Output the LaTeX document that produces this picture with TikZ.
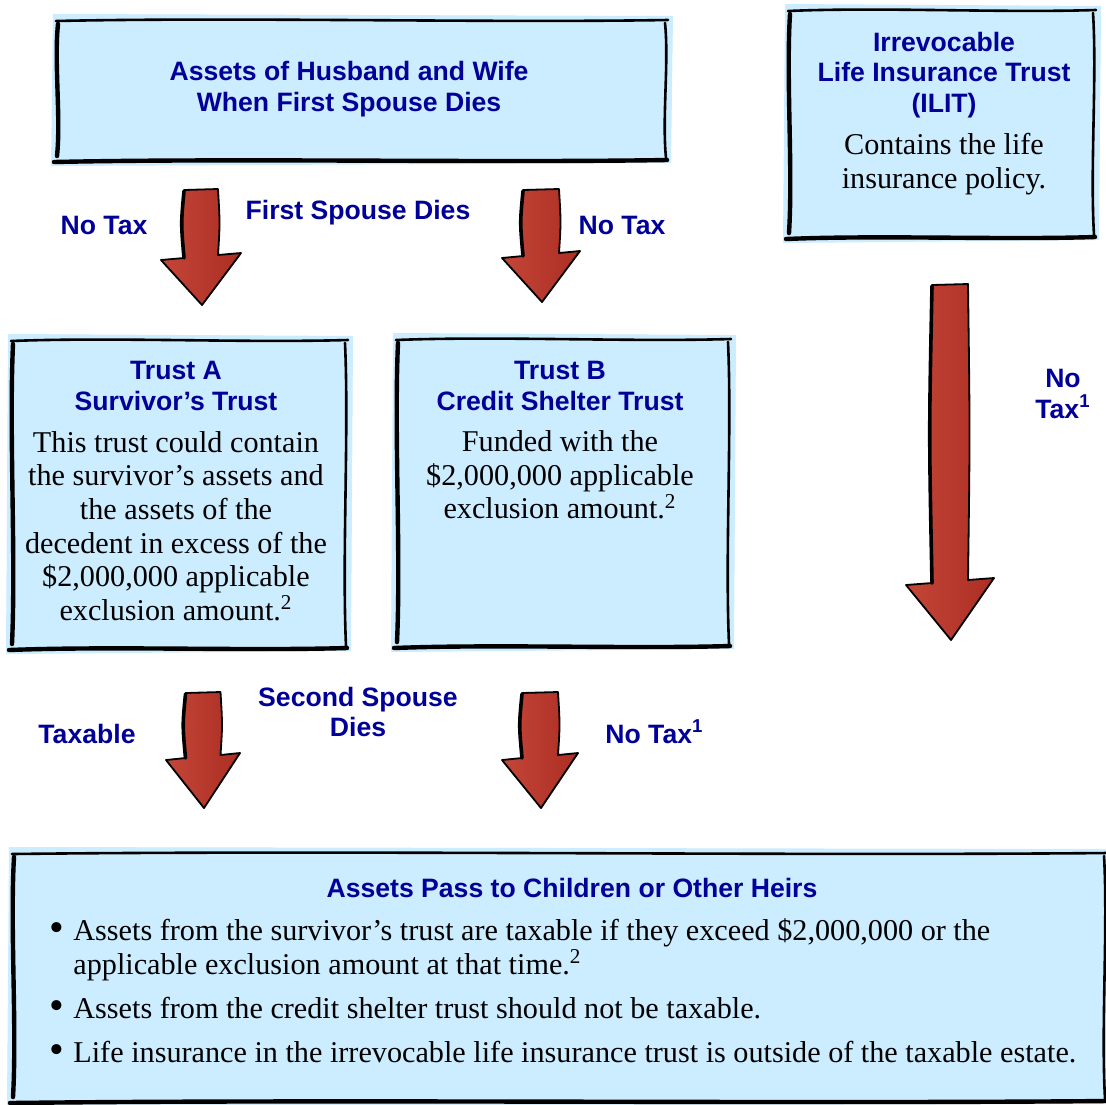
\documentclass[tikz,border=0pt]{standalone}
\usepackage{fontspec}
\setmainfont{Liberation Serif}
\newfontfamily\hdfont{Liberation Sans}
\definecolor{boxfill}{RGB}{204,236,255}
\definecolor{navy}{RGB}{0,0,153}
\definecolor{redlite}{RGB}{196,70,56}
\definecolor{reddark}{RGB}{172,46,36}
\tikzset{
  hd/.style={font=\hdfont\bfseries\fontsize{13.3}{15.4}\selectfont, text=navy, align=center, inner sep=0pt},
  bd/.style={font=\fontsize{15.1}{16.8}\selectfont, align=center, inner sep=0pt},
  bul/.style={font=\fontsize{21}{16.8}\selectfont, inner sep=0pt},
  edgethin/.style={line width=1.3pt, line cap=round},
  edgethick/.style={line width=2.2pt, line cap=round},
  arrowbody/.style={left color=redlite, right color=reddark, draw=black, line width=0.9pt, line join=round},
  arrowedge/.style={line width=1.8pt, line cap=round},
}
\newcommand\sketchbox[4]{%
  \fill[boxfill] ({#1-5},{#2-6}) -- ({#3+8},{#2-4}) -- ({#3+6},{#4+3}) -- ({#1-7},{#4+6}) -- cycle;
  \draw[edgethin] ({#1-2},{#2+1}) .. controls ({#1+0.3*(#3-#1)},{#2-3}) and ({#1+0.7*(#3-#1)},{#2+3}) .. ({#3+3},{#2});
  \draw[edgethin] ({#3},{#2+3}) .. controls ({#3+4},{#2+0.3*(#4-#2)}) and ({#3-3},{#2+0.7*(#4-#2)}) .. ({#3+1},{#4-2});
  \draw[edgethick] ({#1},{#2+4}) .. controls ({#1-4},{#2+0.3*(#4-#2)}) and ({#1+3},{#2+0.7*(#4-#2)}) .. ({#1-1},{#4-4});
  \draw[edgethick] ({#1-4},{#4+2}) .. controls ({#1+0.3*(#3-#1)},{#4-2}) and ({#1+0.7*(#3-#1)},{#4+3}) .. ({#3+2},{#4});
}
% cx, ytop, yhead, ytip, shaft width, head width
\newcommand\redarrow[6]{%
  \shadedraw[arrowbody] ({#1-#5/2},{#2}) -- ({#1+#5/2},{#2-1})
    .. controls ({#1+#5/2+2},{#2+0.5*(#3-#2)}) .. ({#1+#5/2},{#3-2})
    -- ({#1+#6/2},{#3-4}) -- ({#1+1},{#4}) -- ({#1-#6/2},{#3+3}) -- ({#1-#5/2},{#3+1})
    .. controls ({#1-#5/2-3},{#2+0.5*(#3-#2)}) .. cycle;
  \draw[arrowedge] ({#1-#5/2},{#2+1}) .. controls ({#1-#5/2-3},{#2+0.5*(#3-#2)}) .. ({#1-#5/2},{#3+1});
}
\begin{document}
\begin{tikzpicture}[x=0.5pt,y=-0.5pt]
\useasboundingbox (0,0) rectangle (1106,1104);
\fill[white] (0,0) rectangle (1106,1104);

% boxes
\sketchbox{58}{20}{665}{160}
\sketchbox{790}{10}{1093}{237}
\sketchbox{13}{340}{345}{648}
\sketchbox{398}{339}{728}{646}
\sketchbox{14}{853}{1104}{1101}

% arrows
\redarrow{201}{190}{257}{305}{34}{80}
\redarrow{541}{190}{255}{302}{36}{78}
\redarrow{203}{693}{757}{808}{35}{74}
\redarrow{540}{693}{757}{808}{36}{76}
\redarrow{950}{285}{582}{640}{36}{88}

% box texts
\node[hd] (top) at (349,89) {Assets of Husband and Wife\\When First Spouse Dies};
\node[hd] (ilitT) at (944,75) {Irrevocable\\Life Insurance Trust\\(ILIT)};
\node[bd] (ilitB) at (944,164) {Contains the life\\insurance policy.};
\node[hd] (trAT) at (176,386) {Trust A\\Survivor’s Trust};
\node[bd] (trAB) at (176,526) {This trust could contain\\the survivor’s assets and\\the assets of the\\decedent in excess of the\\\$2,000,000 applicable\\exclusion amount.\textsuperscript{2}};
\node[hd] (trBT) at (560,386) {Trust B\\Credit Shelter Trust};
\node[bd] (trBB) at (560,475) {Funded with the\\\$2,000,000 applicable\\exclusion amount.\textsuperscript{2}};

% bottom box
\node[hd, anchor=base] (botT) at (572,897) {Assets Pass to Children or Other Heirs};
\node[bul, anchor=base] (bu1) at (57,941) {\textbullet};
\node[bd, anchor=base west] (b1a) at (73,940) {Assets from the survivor’s trust are taxable if they exceed \$2,000,000 or the};
\node[bd, anchor=base west] (b1b) at (73,974) {applicable exclusion amount at that time.\textsuperscript{2}};
\node[bul, anchor=base] (bu2) at (57,1019) {\textbullet};
\node[bd, anchor=base west] (b2) at (73,1018) {Assets from the credit shelter trust should not be taxable.};
\node[bul, anchor=base] (bu3) at (57,1063) {\textbullet};
\node[bd, anchor=base west] (b3) at (73,1062) {Life insurance in the irrevocable life insurance trust is outside of the taxable estate.};

% labels
\node[hd, anchor=base] (l1) at (104,234) {No Tax};
\node[hd, anchor=base] (l2) at (358,219) {First Spouse Dies};
\node[hd, anchor=base] (l3) at (622,234) {No Tax};
\node[hd] (l4) at (1063,394) {No\\Tax\textsuperscript{1}};
\node[hd, anchor=base] (l5) at (87,743) {Taxable};
\node[hd] (l6) at (358,712) {Second Spouse\\Dies};
\node[hd, anchor=base west] (l7) at (605,743) {No Tax\textsuperscript{1}};
\end{tikzpicture}
\end{document}
